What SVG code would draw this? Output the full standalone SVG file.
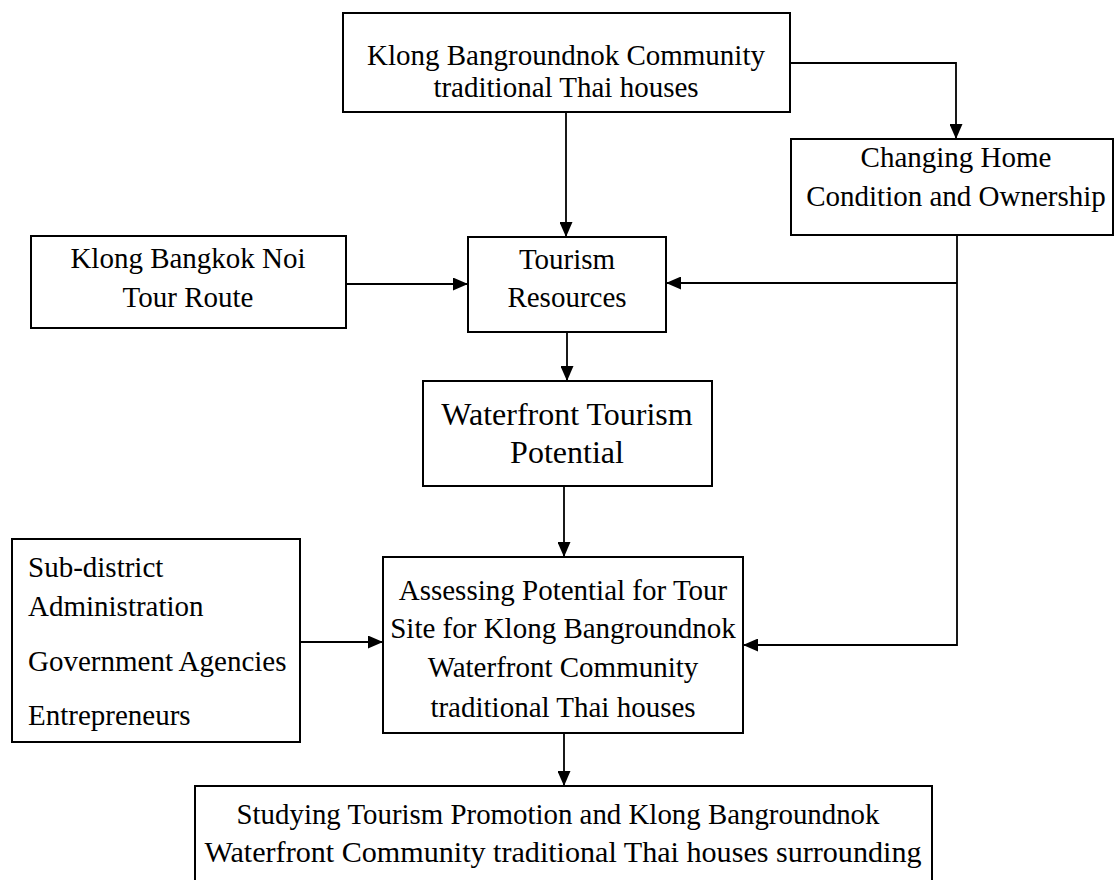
<svg xmlns="http://www.w3.org/2000/svg" width="1116" height="880" viewBox="0 0 1116 880">
<defs>
<marker id="arr" markerUnits="userSpaceOnUse" markerWidth="15" markerHeight="13" refX="15" refY="6.5" orient="auto">
<path d="M0,0 L15,6.5 L0,13 z" fill="#000"/>
</marker>
<style>
.box{fill:#fff;stroke:#000;stroke-width:2}
.t{font-family:"Liberation Serif","Times New Roman",serif;font-size:29px;fill:#000;text-anchor:middle}
.tl{font-family:"Liberation Serif","Times New Roman",serif;font-size:29px;fill:#000}
.c{fill:none;stroke:#000;stroke-width:1.8}
</style>
</defs>
<rect width="1116" height="880" fill="#fff"/>
<g id="connectors">
<path class="c" d="M566,112 V237" marker-end="url(#arr)"/>
<path class="c" d="M790,63 H956 V139" marker-end="url(#arr)"/>
<path class="c" d="M346,284 H468" marker-end="url(#arr)"/>
<path class="c" d="M957,235 V645 H743" marker-end="url(#arr)"/>
<path class="c" d="M957,283 H666" marker-end="url(#arr)"/>
<path class="c" d="M567,332 V381" marker-end="url(#arr)"/>
<path class="c" d="M564,486 V557" marker-end="url(#arr)"/>
<path class="c" d="M300,642 H383" marker-end="url(#arr)"/>
<path class="c" d="M564,733 V786" marker-end="url(#arr)"/>
</g>
<g id="n-top">
<rect class="box" x="343" y="13" width="447" height="99"/>
<text class="t" x="566" y="65">Klong Bangroundnok Community</text>
<text class="t" x="566" y="97">traditional Thai houses</text>
</g>
<g id="n-changing">
<rect class="box" x="791" y="139" width="322" height="96"/>
<text class="t" x="956" y="167">Changing Home</text>
<text class="t" x="956" y="206">Condition and Ownership</text>
</g>
<g id="n-bangkoknoi">
<rect class="box" x="31" y="236" width="315" height="92"/>
<text class="t" x="188" y="268">Klong Bangkok Noi</text>
<text class="t" x="188" y="307">Tour Route</text>
</g>
<g id="n-tourism">
<rect class="box" x="468" y="237" width="198" height="95"/>
<text class="t" x="567" y="269">Tourism</text>
<text class="t" x="567" y="307">Resources</text>
</g>
<g id="n-waterfront">
<rect class="box" x="423" y="381" width="289" height="105"/>
<text class="t" x="567" y="425" style="font-size:32px">Waterfront Tourism</text>
<text class="t" x="567" y="463" style="font-size:32px">Potential</text>
</g>
<g id="n-subdistrict">
<rect class="box" x="12" y="539" width="288" height="203"/>
<text class="tl" x="28" y="577">Sub-district</text>
<text class="tl" x="28" y="616">Administration</text>
<text class="tl" x="28" y="671">Government Agencies</text>
<text class="tl" x="28" y="725">Entrepreneurs</text>
</g>
<g id="n-assessing">
<rect class="box" x="383" y="557" width="360" height="176"/>
<text class="t" x="563" y="600">Assessing Potential for Tour</text>
<text class="t" x="563" y="638">Site for Klong Bangroundnok</text>
<text class="t" x="563" y="677">Waterfront Community</text>
<text class="t" x="563" y="717">traditional Thai houses</text>
</g>
<g id="n-studying">
<rect class="box" x="195" y="786" width="737" height="110"/>
<text class="t" x="558" y="824" style="font-size:30px" textLength="643" lengthAdjust="spacingAndGlyphs">Studying Tourism Promotion and Klong Bangroundnok</text>
<text class="t" x="563" y="862" style="font-size:30px" textLength="717" lengthAdjust="spacingAndGlyphs">Waterfront Community traditional Thai houses surrounding</text>
</g>
</svg>
